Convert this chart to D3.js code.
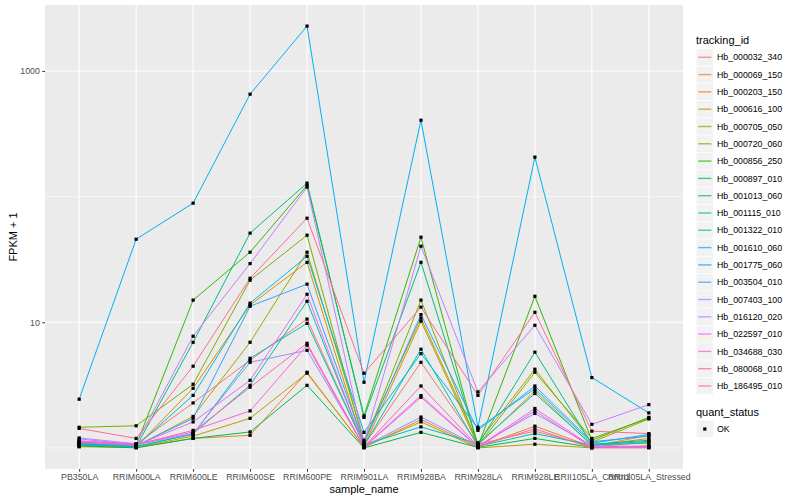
<!DOCTYPE html>
<html>
<head>
<meta charset="utf-8">
<script src="https://cdn.jsdelivr.net/npm/d3@7"></script>
<style>
  body { margin: 0; background: #fff; }
  text { font-family: "Liberation Sans", Arial, sans-serif; }
</style>
</head>
<body>
<svg id="chart" width="800" height="500"></svg>
<script>
const samples = ['PB350LA', 'RRIM600LA', 'RRIM600LE', 'RRIM600SE', 'RRIM600PE', 'RRIM901LA',
    'RRIM928BA', 'RRIM928LA', 'RRIM928LE', 'RRII105LA_Control', 'RRII105LA_Stressed'];

const trackingIds = ['Hb_000032_340', 'Hb_000069_150', 'Hb_000203_150', 'Hb_000616_100', 'Hb_000705_050',
    'Hb_000720_060', 'Hb_000856_250', 'Hb_000897_010', 'Hb_001013_060', 'Hb_001115_010',
    'Hb_001322_010', 'Hb_001610_060', 'Hb_001775_060', 'Hb_003504_010', 'Hb_007403_100',
    'Hb_016120_020', 'Hb_022597_010', 'Hb_034688_030', 'Hb_080068_010', 'Hb_186495_010'];

const hueColors = ['#F8766D', '#EA8331', '#D89000', '#C09B00', '#A3A500', '#7CAE00', '#39B600', '#00BB4E',
    '#00BF7D', '#00C1A3', '#00BFC4', '#00BAE0', '#00B0F6', '#35A2FF', '#9590FF', '#C77CFF',
    '#E76BF3', '#FA62DB', '#FF62BC', '#FF6C91'];

// FPKM + 1, one row per tracking_id, in sample order
const fpkm = [
    [1.11, 1.07, 2.28, 4.98, 10.6, 1.05, 4.80, 1.07, 1.36, 1.03, 1.26],
    [1.03, 1.01, 1.19, 1.26, 4.00, 1.01, 1.68, 1.02, 1.49, 1.02, 1.11],
    [1.05, 1.02, 2.98, 13.7, 30.0, 1.03, 10.2, 1.05, 2.84, 1.04, 1.19],
    [1.02, 1.01, 1.24, 1.72, 3.93, 1.02, 1.61, 1.00, 1.07, 1.00, 1.04],
    [1.06, 1.03, 1.78, 6.93, 36.1, 1.15, 10.8, 1.10, 4.23, 1.11, 1.70],
    [1.46, 1.50, 3.21, 21.6, 49.3, 1.08, 15.0, 1.04, 4.00, 1.19, 1.72],
    [1.10, 1.05, 15.0, 36.1, 123, 1.80, 47.5, 1.03, 16.1, 1.15, 1.75],
    [1.04, 1.00, 1.19, 1.34, 3.15, 1.00, 1.33, 1.01, 1.19, 1.01, 1.02],
    [1.08, 1.02, 6.93, 51.2, 128, 1.75, 30.0, 1.06, 5.78, 1.07, 1.15],
    [1.07, 1.02, 1.30, 3.15, 14.7, 1.04, 6.10, 1.03, 1.30, 1.05, 1.13],
    [1.09, 1.03, 1.28, 5.17, 9.80, 1.06, 1.47, 1.08, 2.71, 1.06, 1.09],
    [1.05, 1.03, 2.62, 14.2, 33.5, 1.33, 5.63, 1.43, 2.96, 1.09, 1.28],
    [2.44, 45.8, 88.7, 653, 2275, 3.33, 405, 1.46, 206, 3.63, 1.90],
    [1.12, 1.04, 1.72, 13.4, 20.1, 1.09, 11.5, 1.38, 3.11, 1.12, 1.24],
    [1.18, 1.06, 1.30, 4.80, 5.98, 1.03, 1.76, 1.04, 1.88, 1.04, 1.02],
    [1.20, 1.08, 7.74, 29.3, 119, 1.10, 40.3, 2.79, 9.46, 1.54, 2.21],
    [1.13, 1.05, 1.61, 3.45, 16.7, 1.02, 2.61, 1.02, 2.06, 1.03, 1.03],
    [1.10, 1.06, 1.38, 1.97, 6.56, 1.01, 2.53, 1.01, 1.97, 1.01, 1.01],
    [1.14, 1.07, 1.34, 3.04, 6.80, 1.02, 3.11, 1.03, 1.42, 1.00, 1.00],
    [1.43, 1.19, 4.47, 22.4, 67.3, 3.93, 13.2, 2.62, 12.0, 1.36, 1.30]
];

const yMajor = [10, 1000];
const yMinor = [1, 100];
const statusLevels = ['OK'];

const panel = { left: 45, right: 683, top: 5, bottom: 469 };
const svg = d3.select('#chart');

const x = d3.scalePoint().domain(samples).range([panel.left, panel.right]).padding(0.6);

let allVals = fpkm.flat();
let lo = Math.log10(d3.min(allVals)), hi = Math.log10(d3.max(allVals));
let pad = (hi - lo) * 0.05;
const y = d3.scaleLog()
    .domain([Math.pow(10, lo - pad), Math.pow(10, hi + pad)])
    .range([panel.bottom, panel.top]);

// panel background and grid
svg.append('rect')
    .attr('x', panel.left).attr('y', panel.top)
    .attr('width', panel.right - panel.left).attr('height', panel.bottom - panel.top)
    .attr('fill', '#EBEBEB');

let grid = svg.append('g');
grid.selectAll('.minor').data(yMinor).enter().append('line')
    .attr('x1', panel.left).attr('x2', panel.right)
    .attr('y1', d => y(d)).attr('y2', d => y(d))
    .attr('stroke', '#fff').attr('stroke-width', 0.55);
grid.selectAll('.major').data(yMajor).enter().append('line')
    .attr('x1', panel.left).attr('x2', panel.right)
    .attr('y1', d => y(d)).attr('y2', d => y(d))
    .attr('stroke', '#fff').attr('stroke-width', 1.1);
grid.selectAll('.vert').data(samples).enter().append('line')
    .attr('x1', d => x(d)).attr('x2', d => x(d))
    .attr('y1', panel.top).attr('y2', panel.bottom)
    .attr('stroke', '#fff').attr('stroke-width', 1.1);

// lines
let series = trackingIds.map((id, i) => ({ id: id, color: hueColors[i], values: fpkm[i] }));
let line = d3.line().x((d, j) => x(samples[j])).y(d => y(d));

svg.append('g').selectAll('path').data(series).enter().append('path')
    .attr('d', s => line(s.values))
    .attr('fill', 'none')
    .attr('stroke', s => s.color)
    .attr('stroke-width', 1);

// points
let pts = [];
series.forEach(s => s.values.forEach((v, j) => pts.push({ sample: samples[j], v: v })));
svg.append('g').selectAll('rect').data(pts).enter().append('rect')
    .attr('x', d => x(d.sample) - 1.6).attr('y', d => y(d.v) - 1.6)
    .attr('width', 3.2).attr('height', 3.2)
    .attr('fill', '#000');

// axes
let xAxis = svg.append('g')
    .attr('transform', `translate(0,${panel.bottom})`)
    .call(d3.axisBottom(x).tickSize(2.7).tickPadding(2.5));
let yAxis = svg.append('g')
    .attr('transform', `translate(${panel.left},0)`)
    .call(d3.axisLeft(y).tickValues(yMajor).tickFormat(d3.format('d')).tickSize(2.7).tickPadding(2.5));
[xAxis, yAxis].forEach(a => {
    a.select('.domain').remove();
    a.selectAll('line').attr('stroke', '#333').attr('stroke-width', 1);
    a.selectAll('text').attr('fill', '#4D4D4D').style('font-size', '8.8px')
        .style('font-family', '"Liberation Sans", Arial, sans-serif');
});

svg.append('text')
    .attr('x', (panel.left + panel.right) / 2).attr('y', 493)
    .attr('text-anchor', 'middle').style('font-size', '11px')
    .text('sample_name');
svg.append('text')
    .attr('transform', `translate(17,${(panel.top + panel.bottom) / 2}) rotate(-90)`)
    .attr('text-anchor', 'middle').style('font-size', '11px')
    .text('FPKM + 1');

// legend: tracking_id
let legend = svg.append('g').attr('transform', 'translate(696,0)');
legend.append('text').attr('x', 0).attr('y', 44).style('font-size', '11px').text('tracking_id');
let keyH = 17.3, firstKey = 57.3;
let keys = legend.selectAll('.key').data(series).enter().append('g')
    .attr('transform', (s, i) => `translate(0,${firstKey + i * keyH})`);
keys.append('rect').attr('x', 0.5).attr('y', -8.3).attr('width', 16.6).attr('height', 16.6)
    .attr('fill', '#F2F2F2');
keys.append('line').attr('x1', 2.2).attr('x2', 15.4).attr('y1', 0).attr('y2', 0)
    .attr('stroke', s => s.color).attr('stroke-width', 1.4).attr('stroke-opacity', 0.75);
keys.append('text').attr('x', 21).attr('y', 3.1).style('font-size', '8.8px').attr('fill', '#000')
    .text(s => s.id);

// legend: quant_status
let legend2 = svg.append('g').attr('transform', 'translate(696,0)');
legend2.append('text').attr('x', 0).attr('y', 416).style('font-size', '11px').text('quant_status');
let k2 = legend2.selectAll('.k2').data(statusLevels).enter().append('g')
    .attr('transform', (d, i) => `translate(0,${429 + i * keyH})`);
k2.append('rect').attr('x', 0.5).attr('y', -8.3).attr('width', 16.6).attr('height', 16.6).attr('fill', '#F2F2F2');
k2.append('rect').attr('x', 7.2).attr('y', -1.6).attr('width', 3.2).attr('height', 3.2).attr('fill', '#000');
k2.append('text').attr('x', 21).attr('y', 3.1).style('font-size', '8.8px').text(d => d);
</script>
</body>
</html>
